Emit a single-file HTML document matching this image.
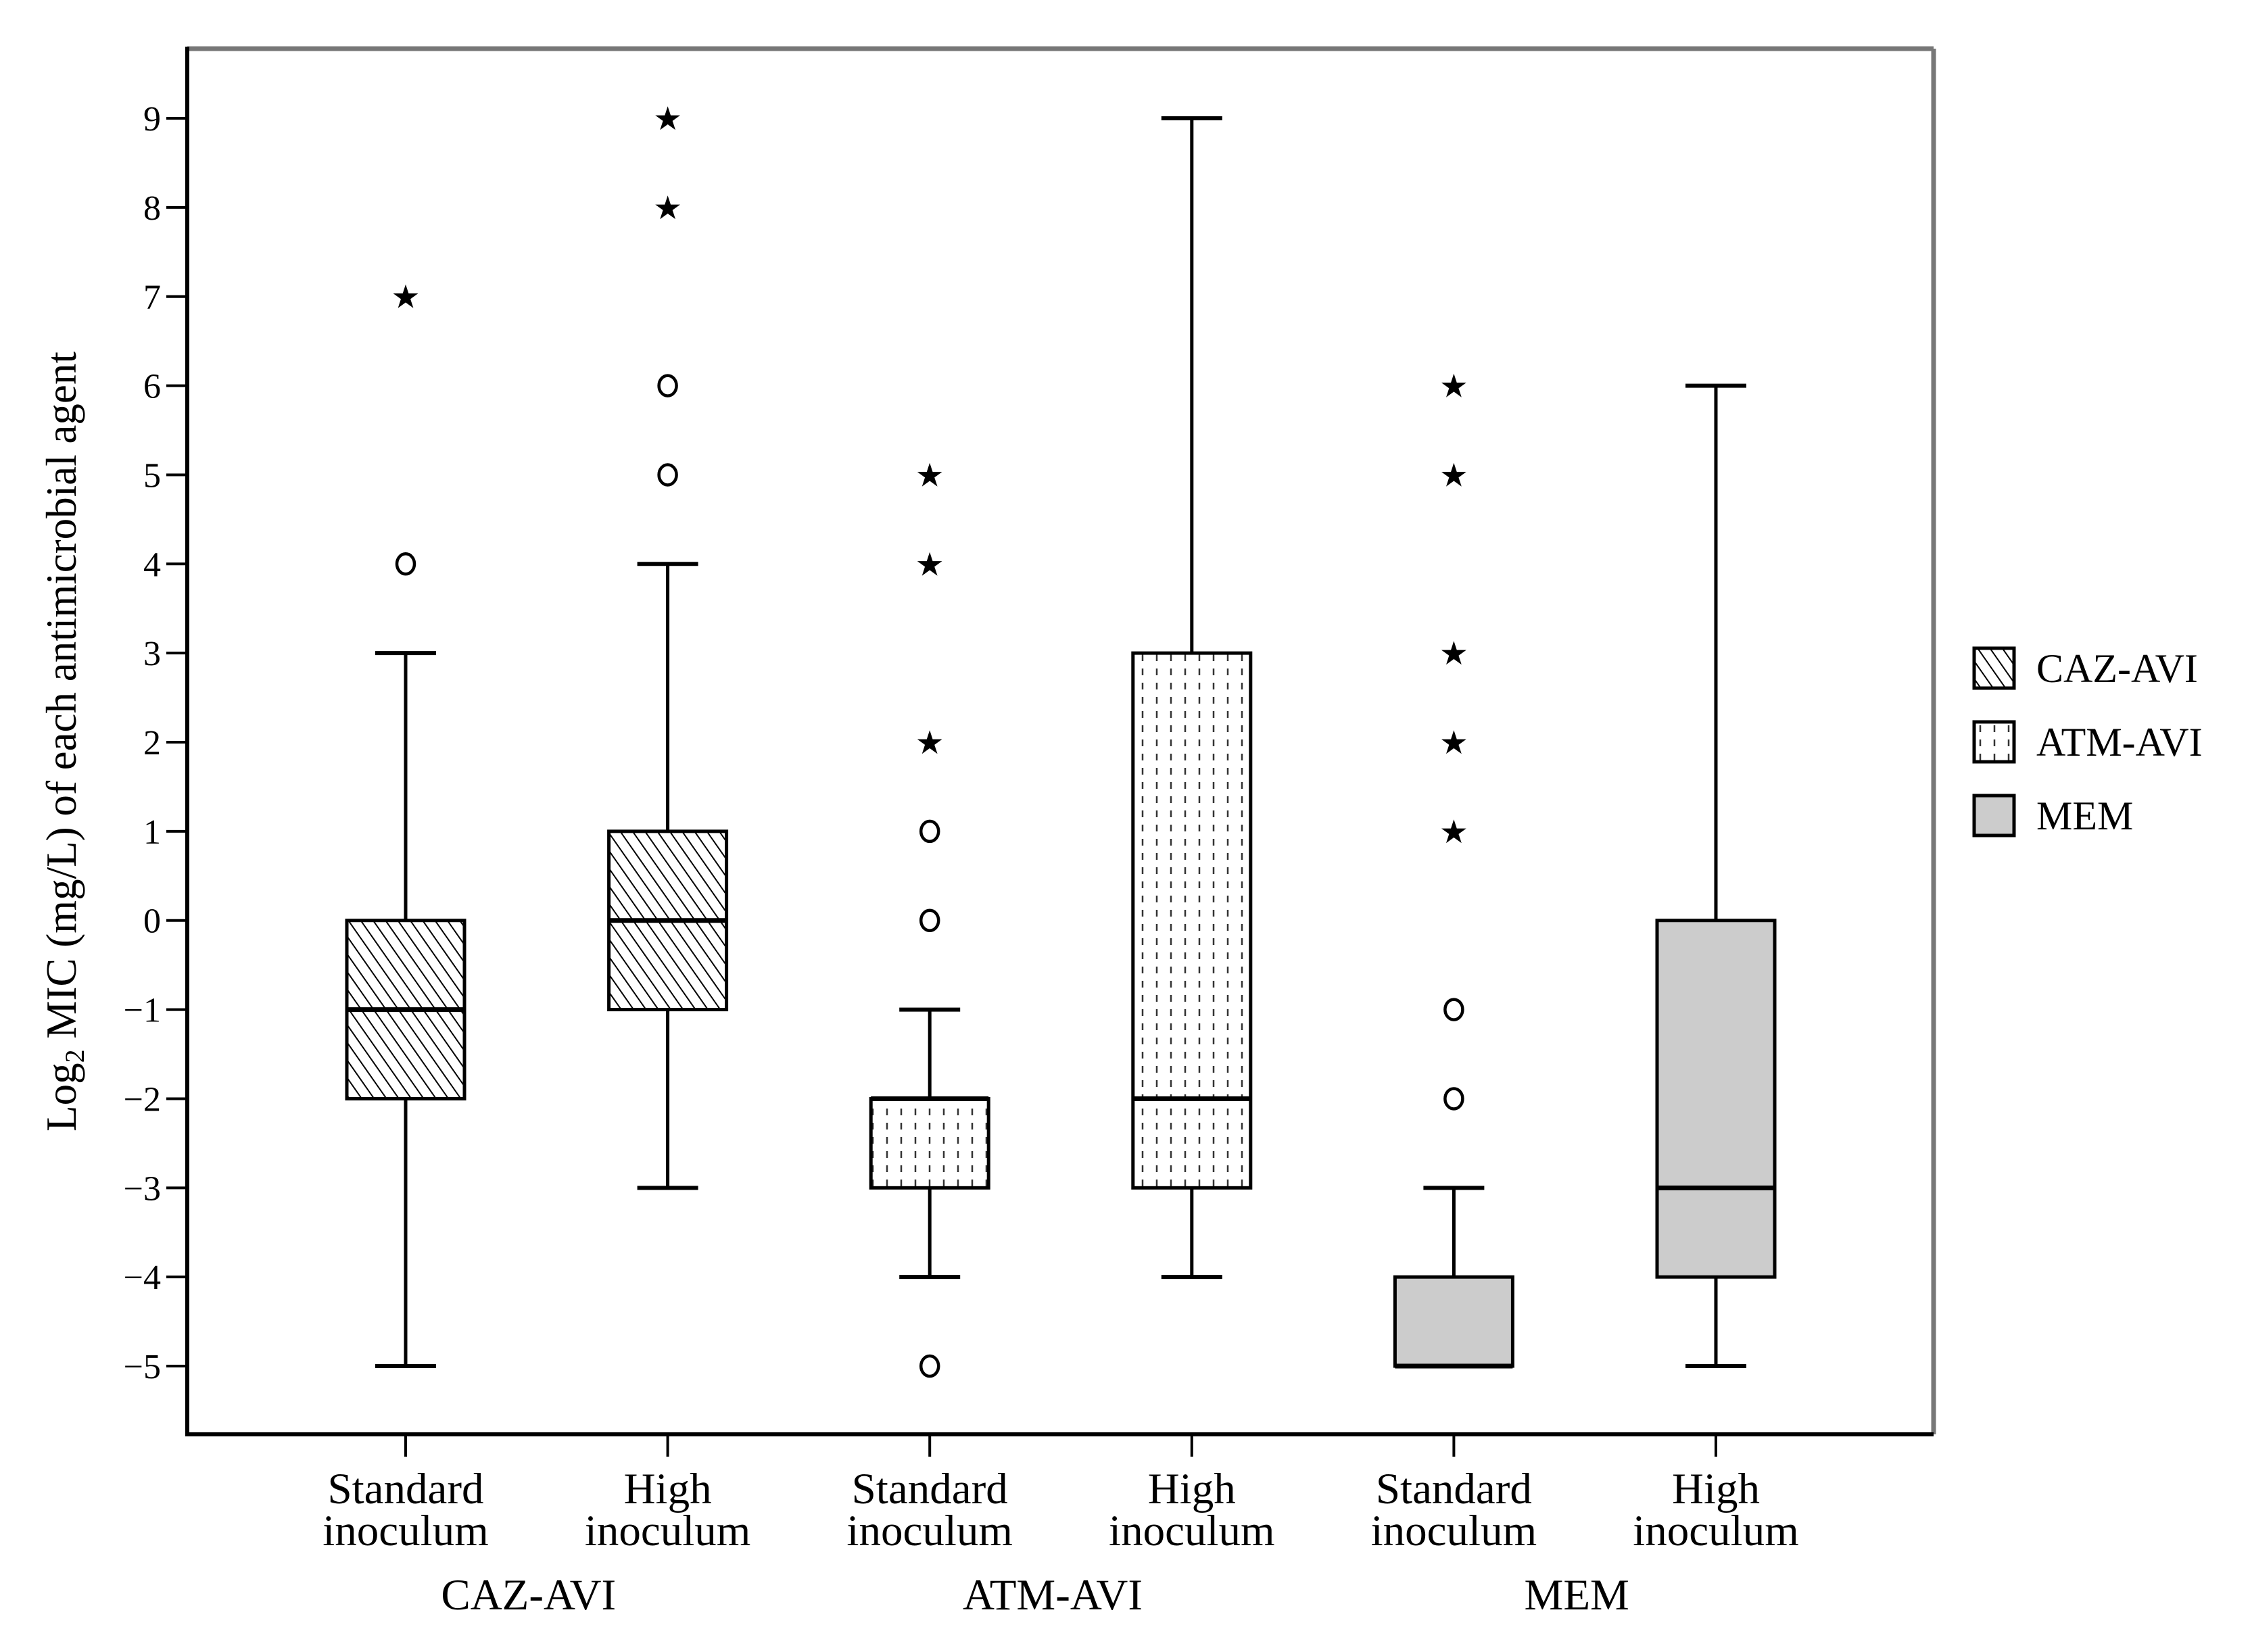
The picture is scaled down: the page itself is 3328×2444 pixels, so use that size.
<!DOCTYPE html>
<html><head><meta charset="utf-8"><style>
html,body{margin:0;padding:0;background:#fff;}
svg{display:block;}
text{font-family:"Liberation Serif",serif;fill:#000;}
</style></head>
<body>
<svg id="chart" width="3328" height="2444" viewBox="0 0 3328 2444" xmlns="http://www.w3.org/2000/svg">
<defs>
<pattern id="hatch" patternUnits="userSpaceOnUse" width="15" height="15" patternTransform="rotate(-35)">
<rect width="15" height="15" fill="#fff"/><line x1="0" y1="0" x2="0" y2="15" stroke="#000" stroke-width="4"/>
</pattern>
<pattern id="dots" patternUnits="userSpaceOnUse" width="21" height="21">
<rect width="21" height="21" fill="#fff"/><line x1="10" y1="2" x2="10" y2="12" stroke="#333" stroke-width="2.5"/>
</pattern>
</defs>
<g id="plot"></g>
</svg>
<script>
const categories=["CAZ-AVI Standard","CAZ-AVI High","ATM-AVI Standard","ATM-AVI High","MEM Standard","MEM High"];
const groupOf=[0,0,1,1,2,2];
const whiskerLow=[-5,-3,-4,-4,-5,-5];
const q1=[-2,-1,-3,-3,-5,-4];
const medians=[-1,0,-2,-2,-5,-3];
const q3=[0,1,-2,3,-4,0];
const whiskerHigh=[3,4,-1,9,-3,6];
const circleOutliers=[[4],[5,6],[1,0,-5],[],[-1,-2],[]];
const starOutliers=[[7],[8,9],[2,4,5],[],[1,2,3,5,6],[]];
const yTicks=[9,8,7,6,5,4,3,2,1,0,-1,-2,-3,-4,-5];
const groupNames=["CAZ-AVI","ATM-AVI","MEM"];
const catLine1=["Standard","High","Standard","High","Standard","High"];
const catLine2=["inoculum","inoculum","inoculum","inoculum","inoculum","inoculum"];

const NS="http://www.w3.org/2000/svg";
const g=document.getElementById('plot');
const fills=["url(#hatch)","url(#dots)","#cccccc"];
function yS(v){return 175+(9-v)*131.86;}
function xS(i){return 600+i*387.6;}
function mk(tag,attrs,parent){const e=document.createElementNS(NS,tag);for(const k in attrs)e.setAttribute(k,attrs[k]);(parent||g).appendChild(e);return e;}

let e;
e=mk('line',{x1:277,y1:72,x2:2860,y2:72,stroke:'#777','stroke-width':7});


e=mk('line',{x1:2860,y1:72,x2:2860,y2:2122,stroke:'#777','stroke-width':7});


e=mk('line',{x1:277,y1:69,x2:277,y2:2125,stroke:'#000','stroke-width':6});


e=mk('line',{x1:274,y1:2122,x2:2860,y2:2122,stroke:'#000','stroke-width':6});



yTicks.forEach(v=>{
 const y=yS(v);
 const t=mk('line',{x1:246,y1:y,x2:277,y2:y,stroke:'#000','stroke-width':4});
 
 
 const lb=mk('text',{x:238,y:y+18,'text-anchor':'end','font-size':52});
 lb.textContent=(v<0?'\u2212':'')+Math.abs(v);
 
 
});

const yt=mk('text',{transform:'translate(112,1097) rotate(-90)','text-anchor':'middle','font-size':63});


yt.innerHTML='Log<tspan font-size="40" dy="12">2</tspan><tspan dy="-12"> MIC (mg/L) of each antimicrobial agent</tspan>';

categories.forEach((c,i)=>{
 const x=xS(i),bw=87,cw=45;
 const grp=mk('g',{});
 
 
 mk('line',{x1:x,y1:yS(whiskerHigh[i]),x2:x,y2:yS(q3[i]),stroke:'#000','stroke-width':5},grp);
 mk('line',{x1:x,y1:yS(q1[i]),x2:x,y2:yS(whiskerLow[i]),stroke:'#000','stroke-width':5},grp);
 mk('line',{x1:x-cw,y1:yS(whiskerHigh[i]),x2:x+cw,y2:yS(whiskerHigh[i]),stroke:'#000','stroke-width':6},grp);
 mk('line',{x1:x-cw,y1:yS(whiskerLow[i]),x2:x+cw,y2:yS(whiskerLow[i]),stroke:'#000','stroke-width':6},grp);
 mk('rect',{x:x-bw,y:yS(q3[i]),width:2*bw,height:yS(q1[i])-yS(q3[i]),fill:fills[groupOf[i]],stroke:'#000','stroke-width':5},grp);
 mk('line',{x1:x-bw,y1:yS(medians[i]),x2:x+bw,y2:yS(medians[i]),stroke:'#000','stroke-width':7},grp);
 circleOutliers[i].forEach(v=>{
  const o=mk('ellipse',{cx:x,cy:yS(v),rx:13,ry:15,fill:'none',stroke:'#000','stroke-width':4.5});
  
  
 });
 starOutliers[i].forEach(v=>{
  const s=mk('text',{x:x,y:yS(v)+17,'text-anchor':'middle','font-size':48,'font-family':'DejaVu Sans'});
  s.textContent='\u2605';
  
  
 });
 const tk=mk('line',{x1:x,y1:2122,x2:x,y2:2155,stroke:'#000','stroke-width':4});
 
 
 const l1=mk('text',{x:x,y:2224,'text-anchor':'middle','font-size':65});
 l1.textContent=catLine1[i];
 
 
 const l2=mk('text',{x:x,y:2286,'text-anchor':'middle','font-size':65});
 l2.textContent=catLine2[i];
 
 
});
groupNames.forEach((n,k)=>{
 const t=mk('text',{x:(xS(2*k)+xS(2*k+1))/2-12,y:2381,'text-anchor':'middle','font-size':65});
 t.textContent=n;
 
 
});
const legY=[959,1068,1177];
groupNames.forEach((n,k)=>{
 const r=mk('rect',{x:2920,y:legY[k],width:59,height:59,fill:fills[k],stroke:'#000','stroke-width':5});
 
 
 const t=mk('text',{x:3012,y:legY[k]+50,'font-size':60});
 t.textContent=n;
 
 
});
</script>
</body></html>
